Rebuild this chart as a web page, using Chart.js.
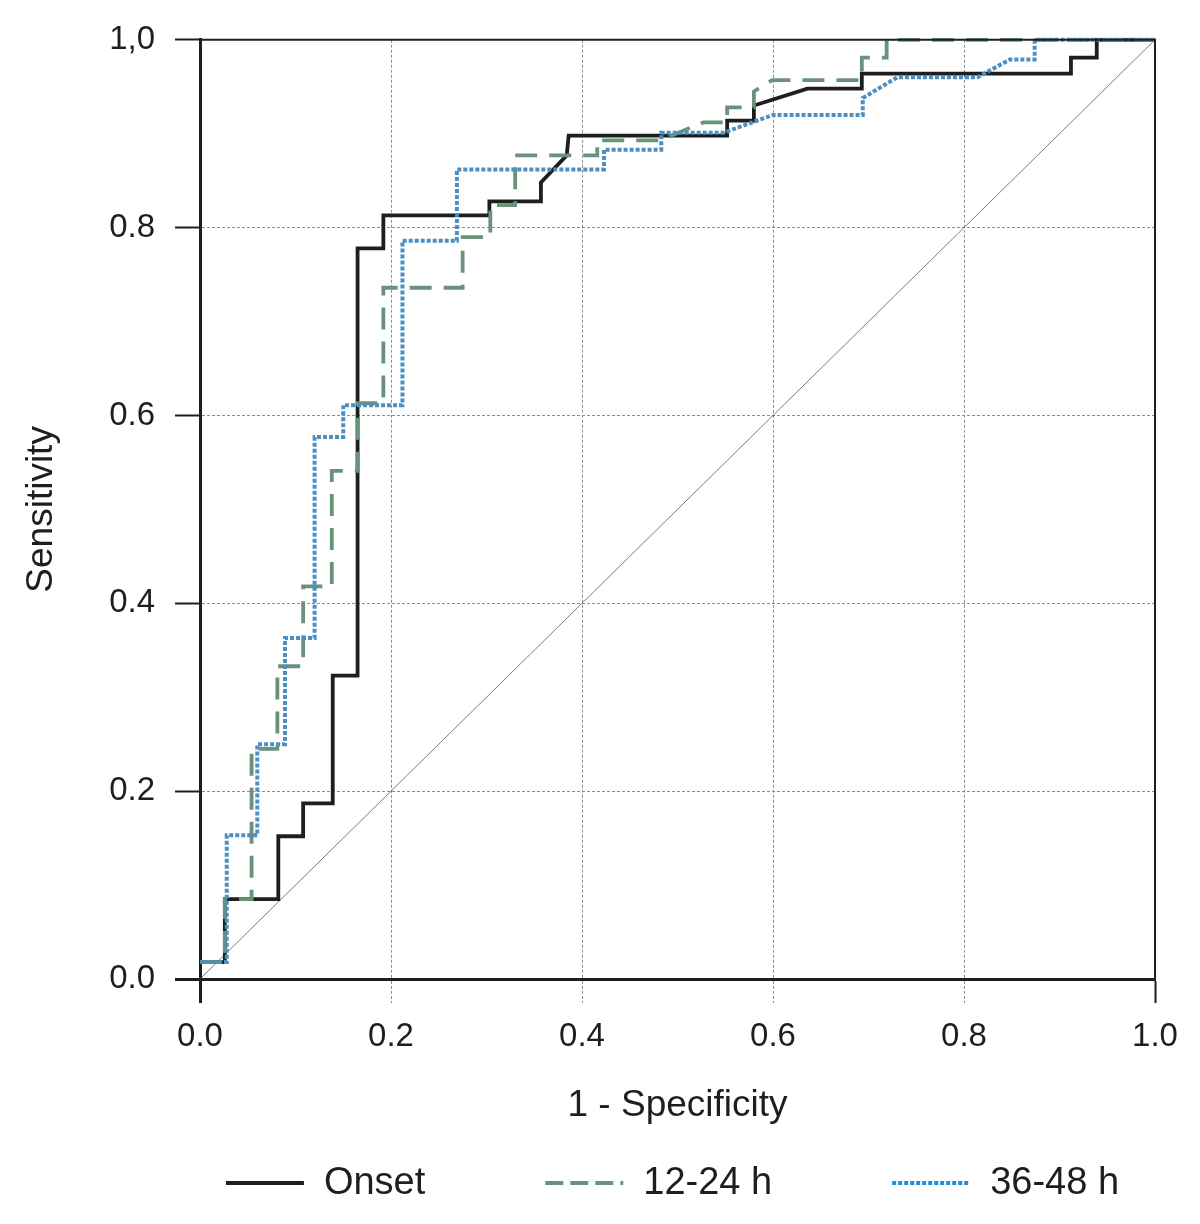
<!DOCTYPE html>
<html>
<head>
<meta charset="utf-8">
<script src="https://cdn.jsdelivr.net/npm/chart.js@4.4.1/dist/chart.umd.min.js"></script>
<style>
  html, body { margin: 0; padding: 0; background: #fff; }
</style>
</head>
<body>
<canvas id="roc" width="1200" height="1224"></canvas>
<script>
// ROC curves (x = 1 - specificity, y = sensitivity)
var seriesNames = ['Onset', '12-24 h', '36-48 h'];

var onsetX = [0, 0.026, 0.026, 0.082, 0.082, 0.108, 0.108, 0.139, 0.139, 0.165, 0.165, 0.192, 0.192,
  0.303, 0.303, 0.357, 0.357, 0.384, 0.386, 0.552, 0.552, 0.580, 0.580, 0.636, 0.693, 0.693,
  0.912, 0.912, 0.939, 0.939, 1];
var onsetY = [0.018, 0.018, 0.085, 0.085, 0.152, 0.152, 0.187, 0.187, 0.323, 0.323, 0.778, 0.778, 0.813,
  0.813, 0.828, 0.828, 0.848, 0.877, 0.898, 0.898, 0.914, 0.914, 0.930, 0.948, 0.948, 0.964,
  0.964, 0.981, 0.981, 1, 1];

var midX = [0, 0.026, 0.026, 0.054, 0.054, 0.081, 0.081, 0.108, 0.108, 0.138, 0.138, 0.165, 0.165,
  0.192, 0.192, 0.275, 0.275, 0.304, 0.304, 0.330, 0.330, 0.416, 0.416, 0.482, 0.527, 0.552,
  0.552, 0.580, 0.580, 0.599, 0.693, 0.693, 0.719, 0.719, 1];
var midY = [0.018, 0.018, 0.085, 0.085, 0.245, 0.245, 0.333, 0.333, 0.418, 0.418, 0.541, 0.541, 0.613,
  0.613, 0.736, 0.736, 0.790, 0.790, 0.824, 0.824, 0.877, 0.877, 0.893, 0.893, 0.912, 0.912,
  0.928, 0.928, 0.945, 0.957, 0.957, 0.981, 0.981, 1, 1];

var lateX = [0, 0.028, 0.028, 0.060, 0.060, 0.089, 0.089, 0.120, 0.120, 0.150, 0.150, 0.212, 0.212,
  0.269, 0.269, 0.423, 0.423, 0.483, 0.483, 0.548, 0.600, 0.694, 0.694, 0.730, 0.814, 0.848,
  0.874, 0.874, 1];
var lateY = [0.018, 0.018, 0.153, 0.153, 0.250, 0.250, 0.363, 0.363, 0.577, 0.577, 0.611, 0.611, 0.786,
  0.786, 0.862, 0.862, 0.883, 0.883, 0.901, 0.901, 0.920, 0.920, 0.938, 0.960, 0.960, 0.979,
  0.979, 1, 1];

var refX = [0, 1];
var refY = [0, 1];

var xTickLabels = ['0.0', '0.2', '0.4', '0.6', '0.8', '1.0'];
var yTickLabels = ['0.0', '0.2', '0.4', '0.6', '0.8', '1,0'];

var FONT = "'Liberation Sans', Arial, Helvetica, sans-serif";
var gridGrey = '#8e8e8e';
var ink = '#1e1e1e';

function toPoints(xs, ys) {
  return xs.map(function (x, i) { return { x: x, y: ys[i] }; });
}

// top and right edges of the plot box
var frame = {
  id: 'frame',
  afterDraw: function (chart) {
    var a = chart.chartArea, ctx = chart.ctx;
    ctx.save();
    ctx.strokeStyle = ink;
    ctx.lineWidth = 2;
    ctx.beginPath();
    ctx.moveTo(a.left, a.top);
    ctx.lineTo(a.right, a.top);
    ctx.lineTo(a.right, a.bottom);
    ctx.stroke();
    ctx.restore();
  }
};

// legend row under the axis title, spaced like the original
var rowLegend = {
  id: 'rowLegend',
  afterDraw: function (chart) {
    var ctx = chart.ctx;
    var sample = 78, gapText = 20, gapItem = 120, y = 1183;
    var items = chart.data.datasets.filter(function (d) { return seriesNames.indexOf(d.label) >= 0; });
    ctx.save();
    ctx.font = "38px " + FONT;
    var total = 0;
    items.forEach(function (d, i) {
      total += sample + gapText + ctx.measureText(d.label).width + (i ? gapItem : 0);
    });
    var x = (chart.chartArea.left + chart.chartArea.right) / 2 - total / 2 - 5;
    items.forEach(function (d) {
      ctx.strokeStyle = d.legendColor || d.borderColor;
      ctx.lineWidth = 4;
      ctx.lineCap = 'butt';
      ctx.setLineDash(d.legendDash || []);
      ctx.beginPath();
      ctx.moveTo(x, y);
      ctx.lineTo(x + sample, y);
      ctx.stroke();
      ctx.setLineDash([]);
      ctx.fillStyle = ink;
      ctx.textBaseline = 'middle';
      ctx.textAlign = 'left';
      ctx.fillText(d.label, x + sample + gapText, y + 1);
      x += sample + gapText + ctx.measureText(d.label).width + gapItem;
    });
    ctx.restore();
  }
};

var ctx = document.getElementById('roc').getContext('2d');
new Chart(ctx, {
  type: 'line',
  data: {
    datasets: [{
      label: seriesNames[0],
      data: toPoints(onsetX, onsetY),
      borderColor: ink,
      borderWidth: 3.8,
      order: 2,
      legendDash: []
    }, {
      label: seriesNames[1],
      data: toPoints(midX, midY),
      borderColor: '#6a9279',
      borderWidth: 3.8,
      borderDash: [22, 12],
      order: 1,
      legendDash: [18, 7]
    }, {
      label: seriesNames[2],
      data: toPoints(lateX, lateY),
      borderColor: '#4b8fc3',
      legendColor: '#1f8fd3',
      borderWidth: 4,
      borderDash: [4, 2],
      order: 0,
      legendDash: [4, 2]
    }, {
      label: 'reference',
      data: toPoints(refX, refY),
      borderColor: '#444',
      borderWidth: 0.7,
      order: 3
    }]
  },
  options: {
    responsive: false,
    animation: false,
    layout: { padding: { top: 37, right: 45, bottom: 80, left: 0 } },
    elements: {
      point: { radius: 0, hoverRadius: 0 },
      line: { tension: 0, fill: false, borderCapStyle: 'butt', borderJoinStyle: 'miter' }
    },
    datasets: { line: { clip: 4 } },
    plugins: {
      legend: { display: false },
      tooltip: { enabled: false }
    },
    scales: {
      x: {
        type: 'linear',
        min: 0,
        max: 1,
        afterFit: function (scale) { scale.height = 165; },
        border: { color: ink, width: 3, dash: [3, 2] },
        grid: {
          color: function (c) { return (c.index === 0 || c.index === 5) ? 'rgba(0,0,0,0)' : gridGrey; },
          lineWidth: 1,
          tickLength: 24,
          tickColor: function (c) { return (c.index === 0 || c.index === 5) ? ink : gridGrey; },
          tickWidth: function (c) { return c.index === 0 ? 3 : (c.index === 5 ? 2 : 1); },
          tickBorderDash: function (c) { return (c.index === 0 || c.index === 5) ? [] : [3, 2]; }
        },
        ticks: {
          stepSize: 0.2,
          padding: 14,
          color: ink,
          font: { family: FONT, size: 33 },
          maxRotation: 0,
          callback: function (v, i) { return xTickLabels[i]; }
        },
        title: {
          display: true,
          text: '1 - Specificity',
          color: ink,
          font: { family: FONT, size: 37 },
          padding: { top: 0, bottom: 16 }
        }
      },
      y: {
        type: 'linear',
        min: 0,
        max: 1,
        afterFit: function (scale) { scale.width = 200; },
        border: { color: ink, width: 3, dash: [3, 2] },
        grid: {
          color: function (c) { return (c.index === 0 || c.index === 5) ? 'rgba(0,0,0,0)' : gridGrey; },
          lineWidth: 1,
          tickLength: 25,
          tickColor: ink,
          tickWidth: function (c) { return c.index === 0 ? 3 : 2; },
          tickBorderDash: []
        },
        ticks: {
          stepSize: 0.2,
          padding: 20,
          color: ink,
          font: { family: FONT, size: 33 },
          callback: function (v, i) { return yTickLabels[i]; }
        },
        title: {
          display: true,
          text: 'Sensitivity',
          color: ink,
          font: { family: FONT, size: 37 },
          padding: { top: 20, bottom: 0 }
        }
      }
    }
  },
  plugins: [frame, rowLegend]
});
</script>
</body>
</html>
